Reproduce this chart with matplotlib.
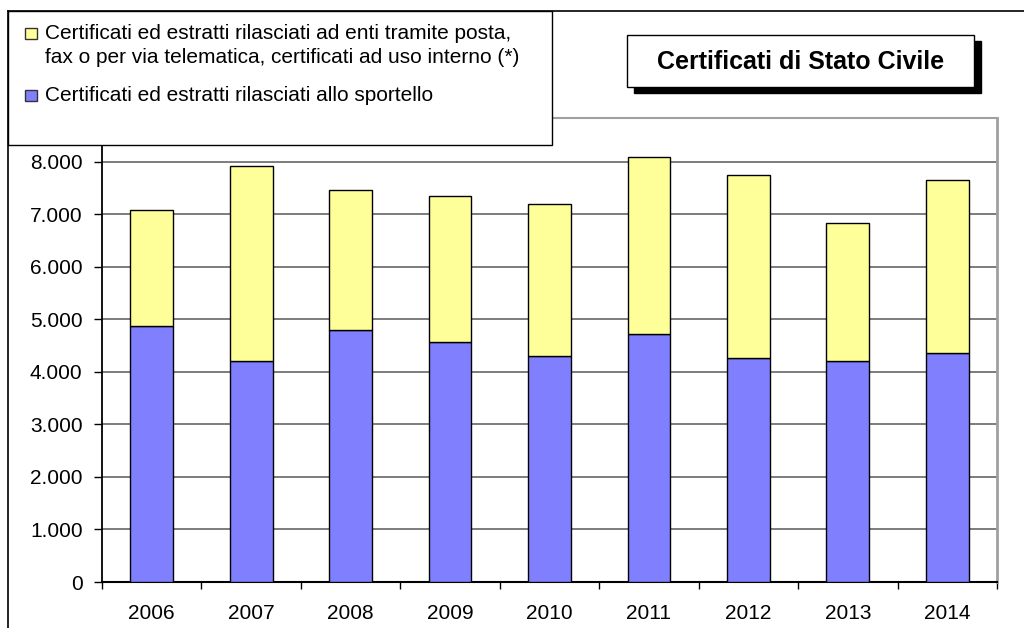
import matplotlib
matplotlib.use("Agg")
import matplotlib.pyplot as plt
from matplotlib.patches import Rectangle
from matplotlib.lines import Line2D
from matplotlib.ticker import FuncFormatter
import numpy as np

plt.rcParams['font.family'] = ['Liberation Sans', 'DejaVu Sans']

years = ['2006', '2007', '2008', '2009', '2010', '2011', '2012', '2013', '2014']
sportello = [4876, 4198, 4800, 4566, 4299, 4730, 4267, 4198, 4350]
totale = [7086, 7924, 7467, 7352, 7200, 8084, 7740, 6827, 7657]
altri = [t - s for t, s in zip(totale, sportello)]

lab_altri = "Certificati ed estratti rilasciati ad enti tramite posta,\nfax o per via telematica, certificati ad uso interno (*)"
lab_sportello = "Certificati ed estratti rilasciati allo sportello"
titolo = "Certificati di Stato Civile"

W, H = 1024, 628
fig = plt.figure(figsize=(W / 100, H / 100), dpi=100)

def fx(px):
    return px / W

def fy(py):
    return 1 - py / H

# plot area in pixels
x0, x1, y0, y1 = 102, 997, 118, 582
ax = fig.add_axes([fx(x0), fy(y1), fx(x1 - x0), (y1 - y0) / H])

x = np.arange(len(years))
ax.bar(x, sportello, width=0.43, color='#8080FF', edgecolor='black', linewidth=1, zorder=3)
ax.bar(x, altri, bottom=sportello, width=0.43, color='#FFFF99', edgecolor='black', linewidth=1, zorder=3)

ax.set_xlim(-0.5, len(years) - 0.5)
ax.set_ylim(0, 8832)
ax.set_yticks(np.arange(0, 8001, 1000))
ax.yaxis.set_major_formatter(FuncFormatter(lambda v, p: f"{int(v):,}".replace(",", ".")))
ax.grid(axis='y', color='#666666', linewidth=1.2, zorder=1)

ax.set_xticks(x)
ax.set_xticklabels(years)
ax.set_xticks(np.arange(-0.5, len(years), 1), minor=True)
ax.tick_params(axis='x', which='major', length=0, pad=16, labelsize=15)
ax.tick_params(axis='x', which='minor', length=5, width=1, direction='out')
ax.tick_params(axis='y', length=6, width=1, pad=8, labelsize=15, direction='out')

ax.spines['left'].set_color('black')
ax.spines['bottom'].set_color('black')
ax.spines['left'].set_linewidth(1.3)
ax.spines['bottom'].set_linewidth(1.5)
ax.spines['top'].set_color('#a0a0a0')
ax.spines['right'].set_color('#a0a0a0')
ax.spines['top'].set_linewidth(1.5)
ax.spines['right'].set_linewidth(2)

# chart area border (top and left)
fig.add_artist(Line2D([fx(8), fx(8)], [fy(11), 0], color='black', linewidth=1.2))
fig.add_artist(Line2D([fx(8), 1], [fy(11), fy(11)], color='black', linewidth=1.2))

# legend box
fig.add_artist(Rectangle((fx(8), fy(145)), fx(552 - 8), (145 - 11) / H,
                         facecolor='white', edgecolor='black', linewidth=1, zorder=5))
for base, col, lab in [(39, '#FFFF99', lab_altri), (101, '#8080FF', lab_sportello)]:
    fig.add_artist(Rectangle((fx(25), fy(base)), fx(12), 11 / H,
                             facecolor=col, edgecolor='#333333', linewidth=1, zorder=6))
    for i, riga in enumerate(lab.split("\n")):
        fig.text(fx(45), fy(base + 24 * i), riga, fontsize=15, va='baseline', ha='left', zorder=6)

# title box with shadow
tx0, tx1, ty0, ty1 = 627, 974, 35, 87
fig.add_artist(Rectangle((fx(tx0 + 7), fy(ty1 + 6)), fx(tx1 - tx0), (ty1 - ty0) / H,
                         facecolor='black', edgecolor='black', zorder=5))
fig.add_artist(Rectangle((fx(tx0), fy(ty1)), fx(tx1 - tx0), (ty1 - ty0) / H,
                         facecolor='white', edgecolor='black', linewidth=1, zorder=6))
fig.text(fx((tx0 + tx1) / 2), fy((ty0 + ty1) / 2 + 1), titolo, fontsize=18, fontweight='bold',
         ha='center', va='center', zorder=7)

fig.savefig('out.png', dpi=100)
